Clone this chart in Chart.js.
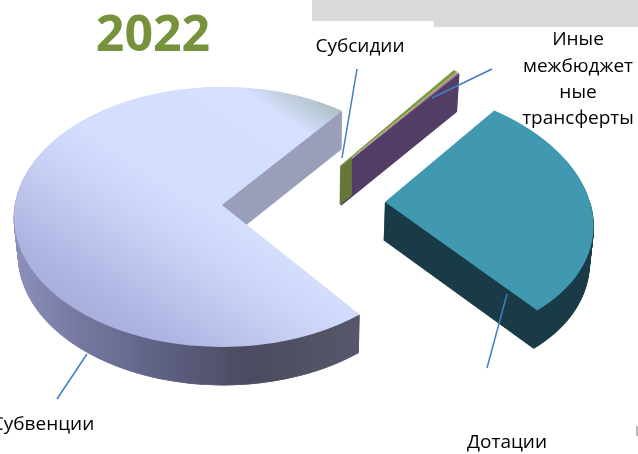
<!DOCTYPE html>
<html lang="ru">
<head>
<meta charset="UTF-8">
<title>2022</title>
<script src="https://cdn.jsdelivr.net/npm/chart.js"></script>
<style>
    html, body { margin: 0; padding: 0; background: #fff; overflow: hidden; }
    #wrap { position: relative; width: 638px; height: 454px; }
    canvas { display: block; }
</style>
</head>
<body>
<div id="wrap"><canvas id="pie" width="638" height="454"></canvas></div>
<script>
const chartTitle = '2022';
const categories = ['Субвенции', 'Субсидии', 'Иные межбюджетные трансферты', 'Дотации'];
const values = [71.25, 0.25, 0.15, 28.35];
const explode = [69, 79, 79, 94];
const topColors = ['#d3defd', '#7a9a3e', '#a8808e', '#4099b0'];
const wallColors = ['#9b9fba', '#66783a', '#533f66', '#1b3c48'];
const labelLines = [['Субвенции'], ['Субсидии'], ['Иные', 'межбюджет', 'ные', 'трансферты'], ['Дотации']];

const W = 638, H = 454;
const DEPTH = 38;
const CX = 291, CY = 203;
const radii = [207, 210, 210, 205];
const shear = [0, 0.09, 0.09, 0.15];
const lift = [2, 0, 0, -2];
const wallEdge = [1, 2, 2, 1];
const topEdge = [0, 1.4, 0.8, 0];
// perspective of the disc: screen y = s*ly / (1 - k*ly), screen x = lx / (1 - k*ly)
const S = 0.6227, K = 0.000445;
const localY = Y => Y / (S + K * Y);

// arc element is drawn row by row, each row with its own affine transform
function drawFlat(ctx, el, i, dy, fill, edge, extraClip) {
    const mid = (el.startAngle + el.endAngle) / 2;
    const ax = CX + Math.cos(mid) * explode[i];
    const ay = Math.round(CY + Math.sin(mid) * explode[i] * 0.6) + lift[i];
    const narrow = 1 - 0.015 * dy / DEPTH;
    for (let Y0 = -122; Y0 < 146; Y0 += 2) {
        const Y1 = Y0 + 2;
        const l0 = localY(Y0), l1 = localY(Y1);
        const sy = (Y1 - Y0) / (l1 - l0);
        const sx = 1 / (1 - K * (l0 + l1) / 2);
        ctx.save();
        if (extraClip) extraClip(ctx, ax, ay);
        ctx.translate(300, 0);
        ctx.scale(narrow, 1);
        ctx.translate(-300, 0);
        ctx.beginPath();
        ctx.rect(-20, ay + dy + Y0, W + 40, 2);
        ctx.clip();
        ctx.transform(sx, 0, shear[i] * sy, sy, ax + shear[i] * (Y0 - sy * l0), ay + dy + Y0 - sy * l0);
        ctx.translate(-el.x, -el.y);
        const part = Object.create(el);
        part.outerRadius = radii[i];
        part.innerRadius = 0;
        part.options = {
            backgroundColor: fill(ctx), borderColor: fill(ctx), borderWidth: edge, borderAlign: 'center',
            borderRadius: 0, spacing: 0, offset: 0, circular: true
        };
        part.draw(ctx);
        ctx.restore();
    }
}

// gradient given in page pixels, whatever the current transform is
function pageGradient(ctx, x0, y0, x1, y1, stops) {
    const m = ctx.getTransform();
    const vx = x1 - x0, vy = y1 - y0, vv = vx * vx + vy * vy;
    const wx = (m.a * vx + m.b * vy) / vv, wy = (m.c * vx + m.d * vy) / vv;
    const ww = wx * wx + wy * wy;
    const q = m.inverse().transformPoint(new DOMPoint(x0, y0));
    const g = ctx.createLinearGradient(q.x, q.y, q.x + wx / ww, q.y + wy / ww);
    stops.forEach(s => g.addColorStop(s[0], s[1]));
    return g;
}

const bigTop = ctx => pageGradient(ctx, 130, 345, 303, 85, [
    [0, '#a9afdd'], [0.1, '#b0b6e3'], [0.36, '#cbd4f7'], [0.5, '#d3defd'], [0.88, '#d5e0ff'], [1, '#aec0c0']
]);
const bigWall = ctx => pageGradient(ctx, 14, 0, 357, 0, [
    [0, '#8c90bb'], [0.2, '#75779f'], [0.45, '#5d5f80'], [0.68, '#4a4b60'], [1, '#565768']
]);

const pie3d = {
    id: 'pie3d',
    beforeDraw(chart) {
        const ctx = chart.ctx;
        ctx.save();
        ctx.fillStyle = '#d9d9d9';
        ctx.fillRect(312, 0, 326, 21);
        ctx.fillRect(434, 21, 204, 6);
        ctx.fillStyle = '#b8b8b8';
        ctx.fillRect(636, 426, 2, 10);
        ctx.restore();
    },
    beforeDatasetDraw(chart) {
        const ctx = chart.ctx;
        const arcs = chart.getDatasetMeta(0).data;
        [2, 1, 0, 3].forEach(i => {
            const el = arcs[i];
            let clip = null;
            if (i === 1) clip = (c, ax) => { c.beginPath(); c.rect(0, 0, ax + 11, H); c.clip(); };
            for (let d = DEPTH; d > 0; d--) drawFlat(ctx, el, i, d, () => wallColors[i], wallEdge[i], clip);
            if (i === 0) {
                const outer = (c, ax, ay) => {
                    c.beginPath();
                    c.rect(0, 0, ax, H);
                    c.rect(ax, ay + 60, W - ax, H);
                    c.clip();
                };
                for (let d = DEPTH; d > 0; d--) drawFlat(ctx, el, i, d, bigWall, wallEdge[i], outer);
            }
            drawFlat(ctx, el, i, 0, i === 0 ? bigTop : () => topColors[i], topEdge[i]);
        });
        return false;
    },
    afterDatasetsDraw(chart) {
        const ctx = chart.ctx;
        ctx.save();
        ctx.strokeStyle = '#3f7fbf';
        ctx.lineWidth = 1.5;
        [[87, 354, 57, 399], [357, 69, 342, 158], [492, 69, 432, 98], [507, 294, 487, 368]].forEach(l => {
            ctx.beginPath();
            ctx.moveTo(l[0], l[1]);
            ctx.lineTo(l[2], l[3]);
            ctx.stroke();
        });
        ctx.textAlign = 'center';
        ctx.textBaseline = 'middle';
        ctx.fillStyle = '#000';
        ctx.font = '19px "Open Sans"';
        const spots = [[43, 425], [360, 47], [578, 40], [507, 443]];
        labelLines.forEach((lines, i) => {
            lines.forEach((t, k) => ctx.fillText(t, spots[i][0], spots[i][1] + k * 26.3));
        });
        ctx.fillStyle = '#76923c';
        ctx.font = 'bold 50px "Open Sans"';
        ctx.fillText(chartTitle, 153, 37);
        ctx.restore();
    }
};

new Chart(document.getElementById('pie'), {
    type: 'pie',
    data: {
        labels: categories,
        datasets: [{ data: values, backgroundColor: topColors, borderWidth: 0, offset: explode }]
    },
    options: {
        responsive: false,
        animation: false,
        rotation: 142,
        layout: { padding: 0 },
        plugins: { legend: { display: false }, tooltip: { enabled: false }, title: { display: false } }
    },
    plugins: [pie3d]
});
</script>
</body>
</html>
